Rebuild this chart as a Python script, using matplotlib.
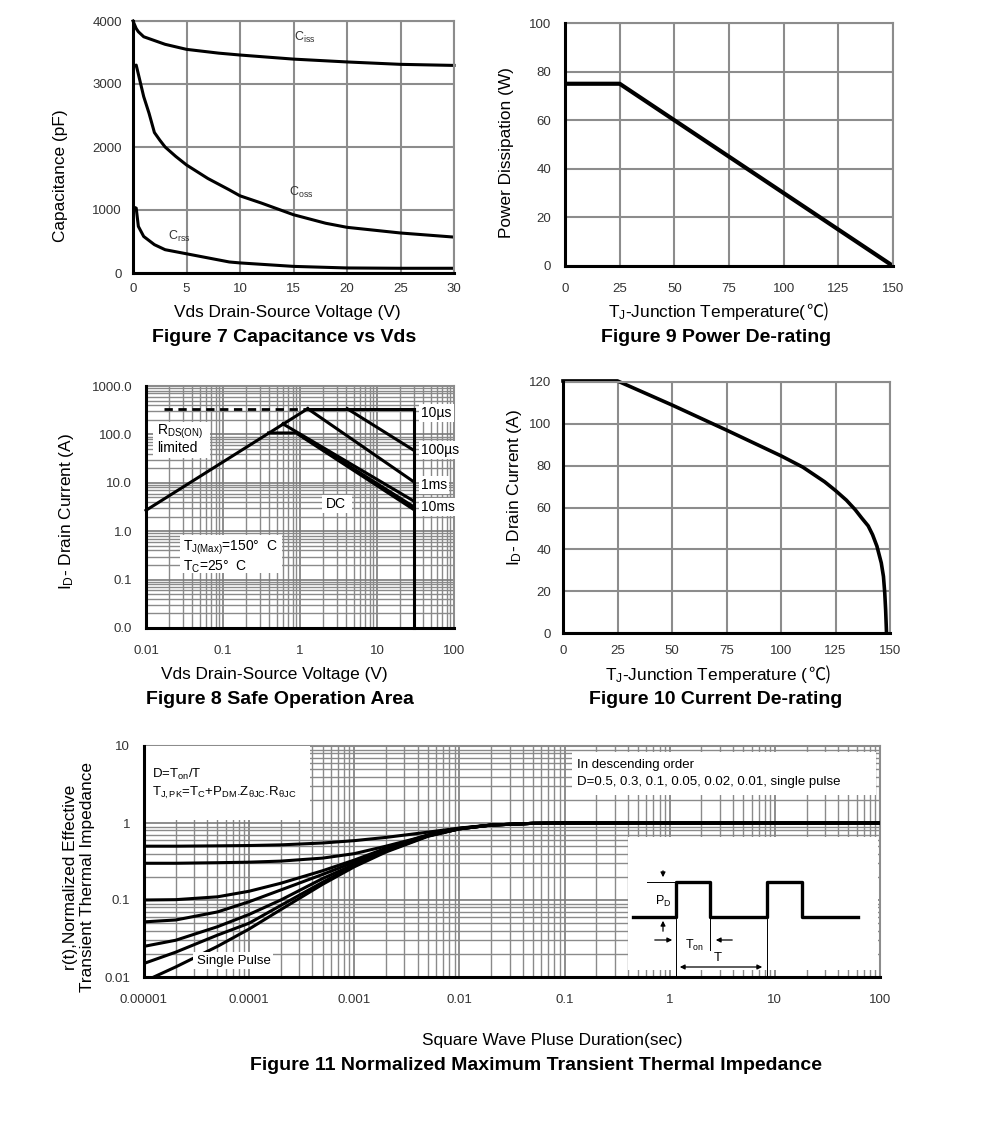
import numpy as np
import matplotlib
matplotlib.use('Agg')
import matplotlib.pyplot as plt
from matplotlib.patches import Rectangle
from matplotlib.ticker import LogLocator, NullFormatter

plt.rcParams['font.family'] = ['Liberation Sans', 'DejaVu Sans']
plt.rcParams['mathtext.fontset'] = 'custom'
plt.rcParams['mathtext.rm'] = 'Liberation Sans'
plt.rcParams['mathtext.it'] = 'Liberation Sans:italic'
plt.rcParams['mathtext.bf'] = 'Liberation Sans:bold'
plt.rcParams['mathtext.default'] = 'regular'

# ---- Figure 7: capacitance vs Vds
ciss_v = [0, 0.3, 0.5, 1, 2, 3, 5, 8, 10, 15, 20, 25, 30]
ciss = [4000, 3880, 3830, 3750, 3690, 3630, 3550, 3490, 3460, 3395, 3350, 3312, 3295]
coss_v = [0, 0.3, 1, 1.5, 2, 2.5, 3, 4, 5, 7, 9, 10, 12, 15, 18, 20, 25, 30]
coss = [3275, 3300, 2800, 2535, 2230, 2110, 2000, 1850, 1715, 1500, 1320, 1225, 1110,
        925, 790, 725, 635, 570]
crss_v = [0, 0.3, 0.5, 1, 2, 3, 5, 7, 9, 10, 15, 20, 25, 30]
crss = [1050, 1030, 740, 580, 450, 370, 305, 240, 175, 160, 105, 80, 75, 75]

# ---- Figure 9: power de-rating
pd_t = [0, 25, 150]
pd_w = [75, 75, 0]

# ---- Figure 10: current de-rating
id_t = [0, 25, 50, 75, 100, 110, 120, 125, 130, 134, 137, 140, 142, 144, 146, 147, 147.6,
        148, 148.4]
id_a = [120.5, 120.5, 109, 97, 84.7, 79.3, 72.3, 68.1, 63.5, 59, 55, 51.2, 47, 41.5, 33.5,
        27, 19, 11, 0]

# ---- Figure 8: safe operating area
rds_v, rds_i = [0.01, 1.26], [2.7, 340]
lim_v, lim_i = [1.26, 30], [340, 340]
dash_v, dash_i = [0.017, 1.26], [340, 340]
vmax_v, vmax_i = [30, 30], [0.01, 340]
us10_v, us10_i = [4.1, 30], [340, 47]
us100_v, us100_i = [1.26, 30], [340, 10.5]
ms1_v, ms1_i = [0.6, 30], [165, 4.2]
ms10_v, ms10_i = [0.39, 0.91, 30], [107, 107, 3.2]
dc_v, dc_i = [0.95, 30], [100, 2.8]
soa_labels = ['10µs', '100µs', '1ms', '10ms']
soa_label_y = [0.888, 0.736, 0.591, 0.50]

# ---- Figure 11: transient thermal impedance
zth_t = [1e-5, 2e-5, 5e-5, 1e-4, 2e-4, 5e-4, 1e-3, 2e-3, 5e-3, 1e-2, 2e-2, 5e-2, 1e-1, 1, 10, 100]
zth = {
    '0.5': [0.50, 0.50, 0.505, 0.51, 0.52, 0.55, 0.59, 0.65, 0.76, 0.86, 0.94, 0.99, 1.0, 1.0, 1.0, 1.0],
    '0.3': [0.30, 0.30, 0.305, 0.31, 0.32, 0.35, 0.40, 0.50, 0.69, 0.84, 0.94, 0.99, 1.0, 1.0, 1.0, 1.0],
    '0.1': [0.10, 0.101, 0.11, 0.13, 0.165, 0.24, 0.33, 0.47, 0.70, 0.85, 0.94, 0.99, 1.0, 1.0, 1.0, 1.0],
    '0.05': [0.052, 0.055, 0.07, 0.095, 0.135, 0.215, 0.31, 0.45, 0.69, 0.85, 0.94, 0.99, 1.0, 1.0, 1.0, 1.0],
    '0.02': [0.025, 0.03, 0.045, 0.065, 0.10, 0.19, 0.29, 0.44, 0.68, 0.84, 0.94, 0.99, 1.0, 1.0, 1.0, 1.0],
    '0.01': [0.015, 0.021, 0.035, 0.05, 0.085, 0.17, 0.28, 0.43, 0.68, 0.84, 0.94, 0.99, 1.0, 1.0, 1.0, 1.0],
}
single_t = [1.2e-5, 2e-5, 5e-5, 1e-4, 2e-4, 5e-4, 1e-3, 2e-3, 5e-3, 1e-2, 2e-2, 5e-2, 1e-1]
single_z = [0.0098, 0.0135, 0.025, 0.042, 0.075, 0.16, 0.27, 0.42, 0.67, 0.84, 0.94, 0.99, 1.0]

# pulse sketch in the inset (inset units)
pulse_x = [5, 48, 48, 82, 82, 139, 139, 174, 174, 230]
pulse_y = [53, 53, 88, 88, 53, 53, 88, 88, 53, 53]

W, H = 991, 1135
fig = plt.figure(figsize=(W / 100, H / 100), dpi=100)
GRID = '#8c8c8c'
TICK = '#333333'
LBL = 12.4


def px_axes(l, t, r, b):
    return fig.add_axes([l / W, 1 - b / H, (r - l) / W, (b - t) / H])


def ftext(x, y, s, **kw):
    return fig.text(x / W, 1 - y / H, s, **kw)


def style(ax, padx, pady, log=False):
    ax.set_axisbelow(True)
    if log:
        ax.grid(True, which='major', color='#7a7a7a', lw=1.2)
        ax.grid(True, which='minor', color='#8a8a8a', lw=1.0)
    else:
        ax.grid(True, color=GRID, lw=1.5)
    for s in ['top', 'right']:
        ax.spines[s].set_color(GRID)
        ax.spines[s].set_linewidth(1.5)
    for s in ['left', 'bottom']:
        ax.spines[s].set_color('black')
        ax.spines[s].set_linewidth(2.2)
        ax.spines[s].set_zorder(5)
    ax.tick_params(which='both', length=0, labelsize=9.5, labelcolor=TICK)
    ax.tick_params(axis='x', pad=padx)
    ax.tick_params(axis='y', pad=pady)


# ===== Figure 7
ax7 = px_axes(133, 21, 454, 273)
ax7.plot(ciss_v, ciss, color='black', lw=2.2, clip_on=False)
ax7.plot(coss_v, coss, color='black', lw=2.2)
ax7.plot(crss_v, crss, color='black', lw=2.2)
ax7.set_xlim(0, 30)
ax7.set_ylim(0, 4000)
ax7.set_xticks(range(0, 31, 5))
ax7.set_yticks(range(0, 4001, 1000))
style(ax7, 7, 8)
ax7.text(15.0, 3680, r'C$_\mathrm{iss}$', fontsize=9, color='#333333')
ax7.text(14.6, 1230, r'C$_\mathrm{oss}$', fontsize=9, color='#333333')
ax7.text(3.3, 520, r'C$_\mathrm{rss}$', fontsize=9, color='#333333')
ftext(287, 312, 'Vds Drain-Source Voltage (V)', fontsize=LBL, ha='center', va='center')
ftext(61, 176, 'Capacitance (pF)', fontsize=LBL, rotation=90, ha='center', va='center')
ftext(284, 338, 'Figure 7 Capacitance vs Vds', fontsize=14, fontweight='bold',
      ha='center', va='center')

# ===== Figure 9
ax9 = px_axes(565, 23, 893, 266)
ax9.plot(pd_t, pd_w, color='black', lw=3.0, solid_capstyle='butt')
ax9.set_xlim(0, 150)
ax9.set_ylim(0, 100)
ax9.set_xticks(range(0, 151, 25))
ax9.set_yticks(range(0, 101, 20))
style(ax9, 12, 10)
ftext(507, 153, 'Power Dissipation (W)', fontsize=LBL, rotation=90, ha='center', va='center')
ftext(716, 338, 'Figure 9 Power De-rating', fontsize=14, fontweight='bold',
      ha='center', va='center')

# ===== Figure 10
ax10 = px_axes(563, 382, 890, 633)
ax10.plot(id_t, id_a, color='black', lw=2.6, clip_on=False)
ax10.set_xlim(0, 150)
ax10.set_ylim(0, 120)
ax10.set_xticks(range(0, 151, 25))
ax10.set_yticks(range(0, 121, 20))
style(ax10, 9, 8.5)
ftext(515, 488, r'I$_\mathrm{D}$- Drain Current (A)', fontsize=LBL, rotation=90,
      ha='center', va='center')
ftext(716, 700, 'Figure 10 Current De-rating', fontsize=14, fontweight='bold',
      ha='center', va='center')

# ===== Figure 8
ax8 = px_axes(146, 386, 454, 628)
ax8.set_xscale('log')
ax8.set_yscale('log')
for v, i in [(rds_v, rds_i), (lim_v, lim_i), (vmax_v, vmax_i), (us10_v, us10_i),
             (us100_v, us100_i), (ms1_v, ms1_i), (ms10_v, ms10_i), (dc_v, dc_i)]:
    ax8.plot(v, i, color='black', lw=2.2, zorder=3, clip_on=False)
ax8.plot(dash_v, dash_i, color='black', lw=2.0, ls=(0, (3, 2)), zorder=3)
ax8.set_xlim(0.01, 100)
ax8.set_ylim(0.01, 1000)
ax8.set_xticks([0.01, 0.1, 1, 10, 100])
ax8.set_xticklabels(['0.01', '0.1', '1', '10', '100'])
ax8.set_yticks([0.01, 0.1, 1, 10, 100, 1000])
ax8.set_yticklabels(['0.0', '0.1', '1.0', '10.0', '100.0', '1000.0'])
for axis in (ax8.xaxis, ax8.yaxis):
    axis.set_minor_locator(LogLocator(base=10, subs=np.arange(2, 10)))
    axis.set_minor_formatter(NullFormatter())
style(ax8, 12, 10, log=True)
for (x, y, w, h) in [(0.023, 0.702, 0.185, 0.149), (0.571, 0.475, 0.098, 0.075),
                     (0.110, 0.227, 0.332, 0.157)]:
    ax8.add_patch(Rectangle((x, y), w, h, transform=ax8.transAxes, fc='white',
                            ec='none', zorder=1))
ax8.text(0.035, 0.81, r'R$_\mathrm{DS(ON)}$', transform=ax8.transAxes, fontsize=10,
         va='center', zorder=4)
ax8.text(0.035, 0.745, 'limited', transform=ax8.transAxes, fontsize=10, va='center', zorder=4)
ax8.text(0.584, 0.512, 'DC', transform=ax8.transAxes, fontsize=10, va='center', zorder=4)
ax8.text(0.12, 0.33, r'T$_\mathrm{J(Max)}$=150°  C', transform=ax8.transAxes, fontsize=10,
         va='center', zorder=4)
ax8.text(0.12, 0.252, r'T$_\mathrm{C}$=25°  C', transform=ax8.transAxes, fontsize=10,
         va='center', zorder=4)
for s, y in zip(soa_labels, soa_label_y):
    ax8.text(0.893, y, s, transform=ax8.transAxes, fontsize=10, va='center', zorder=4,
             bbox=dict(fc='white', ec='none', pad=1.5))
ftext(274, 675, 'Vds Drain-Source Voltage (V)', fontsize=LBL, ha='center', va='center')
ftext(66, 512, r'I$_\mathrm{D}$- Drain Current (A)', fontsize=LBL, rotation=90,
      ha='center', va='center')
ftext(280, 700, 'Figure 8 Safe Operation Area', fontsize=14, fontweight='bold',
      ha='center', va='center')

# ===== Figure 11
ax11 = px_axes(144, 746, 880, 977)
ax11.set_xscale('log')
ax11.set_yscale('log')
for d, z in zth.items():
    ax11.plot(zth_t, z, color='black', lw=2.2, zorder=3)
ax11.plot(single_t, single_z, color='black', lw=2.2, zorder=3)
ax11.set_xlim(1e-5, 100)
ax11.set_ylim(0.01, 10)
ax11.set_xticks([1e-5, 1e-4, 1e-3, 1e-2, 1e-1, 1, 10, 100])
ax11.set_xticklabels(['0.00001', '0.0001', '0.001', '0.01', '0.1', '1', '10', '100'])
ax11.set_yticks([0.01, 0.1, 1, 10])
ax11.set_yticklabels(['0.01', '0.1', '1', '10'])
for axis in (ax11.xaxis, ax11.yaxis):
    axis.set_minor_locator(LogLocator(base=10, subs=np.arange(2, 10)))
    axis.set_minor_formatter(NullFormatter())
style(ax11, 12, 10, log=True)
for (x, y, w, h) in [(0.0, 0.68, 0.225, 0.32), (0.582, 0.788, 0.412, 0.186),
                     (0.0666, 0.035, 0.108, 0.073)]:
    ax11.add_patch(Rectangle((x, y), w, h, transform=ax11.transAxes, fc='white',
                             ec='none', zorder=4))
ax11.text(0.011, 0.879, r'D=T$_\mathrm{on}$/T', transform=ax11.transAxes, fontsize=9.5,
          va='center', zorder=5)
ax11.text(0.011, 0.797, r'T$_\mathrm{J,PK}$=T$_\mathrm{C}$+P$_\mathrm{DM}$.Z$_\mathrm{θJC}$.R$_\mathrm{θJC}$',
          transform=ax11.transAxes, fontsize=9.5, va='center', zorder=5)
ax11.text(0.588, 0.918, 'In descending order', transform=ax11.transAxes, fontsize=9.5,
          va='center', zorder=5)
ax11.text(0.588, 0.844, 'D=0.5, 0.3, 0.1, 0.05, 0.02, 0.01, single pulse',
          transform=ax11.transAxes, fontsize=9.5, va='center', zorder=5)
ax11.text(0.072, 0.069, 'Single Pulse', transform=ax11.transAxes, fontsize=9.5,
          va='center', zorder=5)

ins = fig.add_axes([628 / W, 1 - 970 / H, (878 - 628) / W, (970 - 837) / H])
ins.set_xlim(0, 250)
ins.set_ylim(0, 133)
ins.set_xticks([])
ins.set_yticks([])
for s in ins.spines.values():
    s.set_visible(False)
ins.plot(pulse_x, pulse_y, color='black', lw=2.4)
ins.plot([19, 48], [88, 88], color='black', lw=0.7)
ins.plot([48, 48], [53, -7], color='black', lw=0.7, clip_on=False)
ins.plot([82, 82], [53, 20], color='black', lw=0.7)
ins.plot([139, 139], [53, -7], color='black', lw=0.7, clip_on=False)
arw = dict(arrowstyle='-|>', color='black', lw=0.9, mutation_scale=7)
ins.annotate('', xy=(35, 90), xytext=(35, 102), arrowprops=arw)
ins.annotate('', xy=(35, 52), xytext=(35, 36), arrowprops=arw)
ins.annotate('', xy=(47, 30), xytext=(24, 30), arrowprops=arw)
ins.annotate('', xy=(85, 30), xytext=(107, 30), arrowprops=arw)
ins.annotate('', xy=(137, 3), xytext=(49, 3),
             arrowprops=dict(arrowstyle='<|-|>', color='black', lw=0.9, mutation_scale=7),
             annotation_clip=False)
ins.text(35, 69, r'P$_\mathrm{D}$', fontsize=9, ha='center', va='center')
ins.text(66, 25, r'T$_\mathrm{on}$', fontsize=9, ha='center', va='center')
ins.text(90, 12, 'T', fontsize=9.5, ha='center', va='center')

ftext(552, 1040, 'Square Wave Pluse Duration(sec)', fontsize=LBL, ha='center', va='center')
ftext(79, 877, 'r(t),Normalized Effective\nTransient Thermal Impedance', fontsize=LBL,
      rotation=90, ha='center', va='center', linespacing=1.1, multialignment='center')
ftext(536, 1066, 'Figure 11 Normalized Maximum Transient Thermal Impedance', fontsize=14,
      fontweight='bold', ha='center', va='center')

# x labels with the degree-Celsius sign (glyph taken from a CJK font)
renderer = fig.canvas.get_renderer()
for x0, y0, s in [(608, 317, r'T$_\mathrm{J}$-Junction Temperature('),
                  (605, 680, r'T$_\mathrm{J}$-Junction Temperature (')]:
    t1 = ftext(x0, y0, s, fontsize=LBL, va='baseline')
    bb = t1.get_window_extent(renderer=renderer)
    fig.text(bb.x1 / W, 1 - y0 / H, '℃)', fontsize=LBL, va='baseline',
             family=['Noto Sans CJK SC', 'DejaVu Sans'])

fig.savefig('out.png', dpi=100, facecolor='white')
